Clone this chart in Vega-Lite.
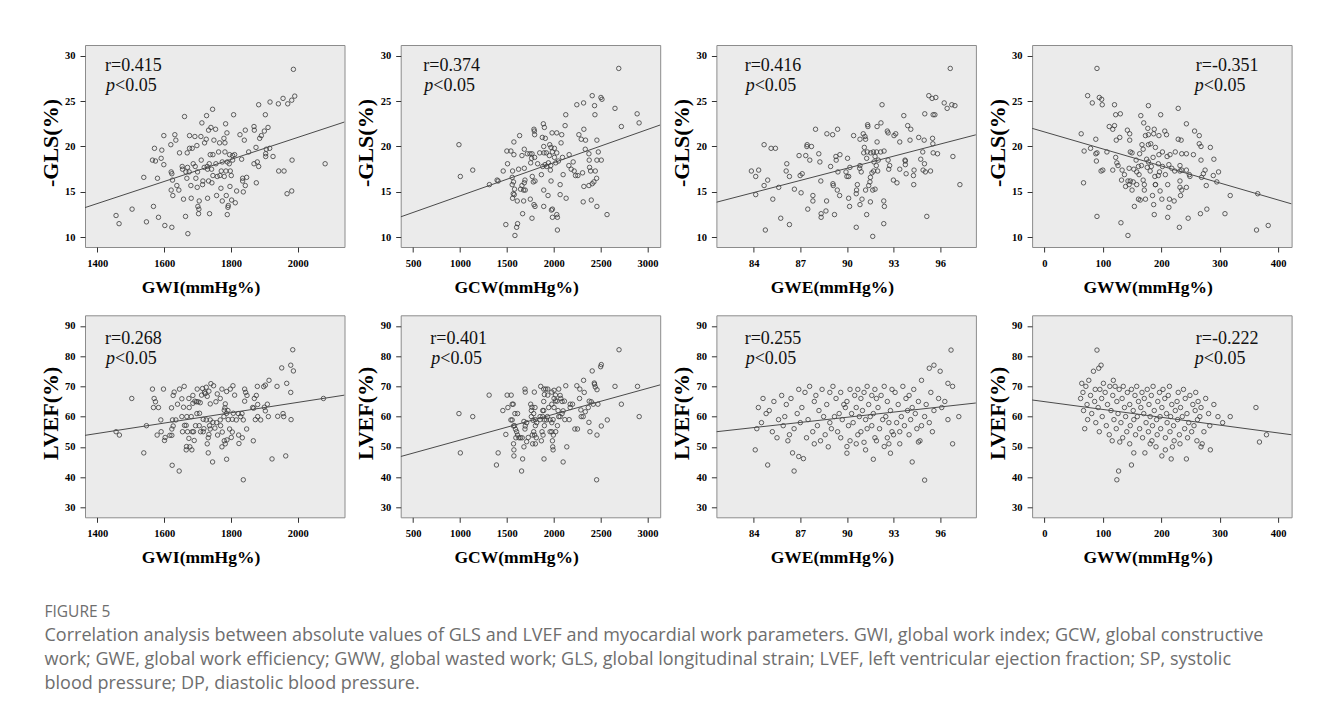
{
  "$schema": "https://vega.github.io/schema/vega-lite/v6.json",
  "background": "white",
  "padding": {"left": 38, "top": 44, "right": 0, "bottom": 12},
  "columns": 4,
  "bounds": "flush",
  "spacing": {"row": 68.3, "column": 55.7},
  "title": {
    "text": "FIGURE 5",
    "subtitle": [
      "Correlation analysis between absolute values of GLS and LVEF and myocardial work parameters. GWI, global work index; GCW, global constructive",
      "work; GWE, global work efficiency; GWW, global wasted work; GLS, global longitudinal strain; LVEF, left ventricular ejection fraction; SP, systolic",
      "blood pressure; DP, diastolic blood pressure."
    ],
    "orient": "bottom",
    "anchor": "start",
    "frame": "bounds",
    "offset": 38.5,
    "dx": 6,
    "font": "Open Sans",
    "fontSize": 15.5,
    "fontWeight": "normal",
    "color": "#6e6e6e",
    "subtitleFont": "Open Sans",
    "subtitleFontSize": 18,
    "subtitleColor": "#6e6e6e",
    "subtitleLineHeight": 24,
    "subtitlePadding": 6.5
  },
  "datasets": {
    "pts": [
      {"p":1,"x":1987,"y":28.5},{"p":1,"x":1991,"y":25.55},{"p":1,"x":1982,"y":25.1},{"p":1,"x":1956,"y":25.3},{"p":1,"x":1970,"y":24.7},{"p":1,"x":1942,"y":24.7},{"p":1,"x":1917,"y":24.9},{"p":1,"x":1883,"y":24.6},{"p":1,"x":1745,"y":24.1},{"p":1,"x":1661,"y":23.3},{"p":1,"x":1727,"y":23.4},{"p":1,"x":1808,"y":23.5},{"p":1,"x":1903,"y":23.5},{"p":1,"x":1713,"y":22.6},{"p":1,"x":1784,"y":22.5},{"p":1,"x":1740,"y":22.1},{"p":1,"x":1911,"y":22.1},{"p":1,"x":1869,"y":22.2},{"p":1,"x":1870,"y":21.8},{"p":1,"x":1843,"y":21.8},{"p":1,"x":1900,"y":21.7},{"p":1,"x":1891,"y":21.2},{"p":1,"x":1886,"y":20.9},{"p":1,"x":1827,"y":21.3},{"p":1,"x":1788,"y":21.5},{"p":1,"x":1733,"y":21.8},{"p":1,"x":1754,"y":21.9},{"p":1,"x":1599,"y":21.2},{"p":1,"x":1632,"y":21.3},{"p":1,"x":1676,"y":21.2},{"p":1,"x":1692,"y":21.1},{"p":1,"x":1710,"y":21.1},{"p":1,"x":1779,"y":20.9},{"p":1,"x":1726,"y":20.8},{"p":1,"x":1749,"y":20.7},{"p":1,"x":1635,"y":20.7},{"p":1,"x":1840,"y":20.7},{"p":1,"x":1620,"y":20.2},{"p":1,"x":1782,"y":20.4},{"p":1,"x":1766,"y":20.4},{"p":1,"x":1698,"y":20.1},{"p":1,"x":1721,"y":20.4},{"p":1,"x":1676,"y":19.8},{"p":1,"x":1684,"y":19.8},{"p":1,"x":1571,"y":19.8},{"p":1,"x":1593,"y":19.6},{"p":1,"x":1646,"y":19.3},{"p":1,"x":1669,"y":19.3},{"p":1,"x":1738,"y":19.1},{"p":1,"x":1746,"y":19.1},{"p":1,"x":1763,"y":19.4},{"p":1,"x":1782,"y":19.4},{"p":1,"x":1796,"y":19.1},{"p":1,"x":1805,"y":19.0},{"p":1,"x":1811,"y":19.1},{"p":1,"x":1853,"y":19.4},{"p":1,"x":1875,"y":19.9},{"p":1,"x":1906,"y":19.7},{"p":1,"x":1916,"y":19.8},{"p":1,"x":1904,"y":19.2},{"p":1,"x":1926,"y":18.9},{"p":1,"x":1904,"y":18.9},{"p":1,"x":1983,"y":18.5},{"p":1,"x":2082,"y":18.1},{"p":1,"x":1591,"y":18.7},{"p":1,"x":1565,"y":18.5},{"p":1,"x":1574,"y":18.4},{"p":1,"x":1599,"y":18.0},{"p":1,"x":1621,"y":17.2},{"p":1,"x":1623,"y":17.0},{"p":1,"x":1654,"y":17.8},{"p":1,"x":1655,"y":17.5},{"p":1,"x":1670,"y":17.7},{"p":1,"x":1687,"y":18.1},{"p":1,"x":1693,"y":17.8},{"p":1,"x":1711,"y":18.5},{"p":1,"x":1720,"y":17.7},{"p":1,"x":1729,"y":17.8},{"p":1,"x":1735,"y":18.1},{"p":1,"x":1730,"y":17.5},{"p":1,"x":1742,"y":17.5},{"p":1,"x":1755,"y":18.1},{"p":1,"x":1774,"y":18.3},{"p":1,"x":1789,"y":18.3},{"p":1,"x":1795,"y":18.1},{"p":1,"x":1805,"y":18.5},{"p":1,"x":1832,"y":18.6},{"p":1,"x":1869,"y":18.1},{"p":1,"x":1883,"y":17.8},{"p":1,"x":1879,"y":18.3},{"p":1,"x":1665,"y":17.2},{"p":1,"x":1675,"y":17.2},{"p":1,"x":1700,"y":17.2},{"p":1,"x":1746,"y":16.8},{"p":1,"x":1759,"y":16.7},{"p":1,"x":1771,"y":17.3},{"p":1,"x":1785,"y":17.3},{"p":1,"x":1798,"y":17.3},{"p":1,"x":1801,"y":16.8},{"p":1,"x":1780,"y":16.7},{"p":1,"x":1767,"y":16.8},{"p":1,"x":1539,"y":16.6},{"p":1,"x":1580,"y":16.5},{"p":1,"x":1625,"y":16.3},{"p":1,"x":1668,"y":16.5},{"p":1,"x":1695,"y":16.5},{"p":1,"x":1716,"y":16.2},{"p":1,"x":1733,"y":16.2},{"p":1,"x":1743,"y":16.0},{"p":1,"x":1835,"y":16.5},{"p":1,"x":1847,"y":16.6},{"p":1,"x":1835,"y":16.2},{"p":1,"x":1843,"y":15.7},{"p":1,"x":1876,"y":16.0},{"p":1,"x":1943,"y":17.3},{"p":1,"x":1959,"y":17.3},{"p":1,"x":1638,"y":15.7},{"p":1,"x":1680,"y":15.7},{"p":1,"x":1699,"y":15.5},{"p":1,"x":1715,"y":15.8},{"p":1,"x":1770,"y":15.4},{"p":1,"x":1797,"y":15.6},{"p":1,"x":1817,"y":15.1},{"p":1,"x":1644,"y":15.2},{"p":1,"x":1621,"y":15.2},{"p":1,"x":1626,"y":14.6},{"p":1,"x":1757,"y":14.6},{"p":1,"x":1786,"y":14.6},{"p":1,"x":1837,"y":15.0},{"p":1,"x":1982,"y":15.1},{"p":1,"x":1968,"y":14.8},{"p":1,"x":1658,"y":14.2},{"p":1,"x":1681,"y":14.3},{"p":1,"x":1705,"y":14.0},{"p":1,"x":1730,"y":14.3},{"p":1,"x":1774,"y":14.0},{"p":1,"x":1802,"y":14.1},{"p":1,"x":1813,"y":13.8},{"p":1,"x":1792,"y":13.5},{"p":1,"x":1791,"y":13.3},{"p":1,"x":1701,"y":13.4},{"p":1,"x":1704,"y":13.1},{"p":1,"x":1703,"y":12.6},{"p":1,"x":1736,"y":12.6},{"p":1,"x":1789,"y":12.5},{"p":1,"x":1568,"y":13.4},{"p":1,"x":1504,"y":13.1},{"p":1,"x":1456,"y":12.4},{"p":1,"x":1465,"y":11.5},{"p":1,"x":1583,"y":12.2},{"p":1,"x":1664,"y":12.3},{"p":1,"x":1547,"y":11.7},{"p":1,"x":1602,"y":11.3},{"p":1,"x":1623,"y":11.1},{"p":1,"x":1671,"y":10.4},

      {"p":2,"x":2693,"y":28.6},{"p":2,"x":2410,"y":25.6},{"p":2,"x":2503,"y":25.4},{"p":2,"x":2514,"y":25.2},{"p":2,"x":2435,"y":24.5},{"p":2,"x":2246,"y":24.6},{"p":2,"x":2318,"y":24.8},{"p":2,"x":2653,"y":24.2},{"p":2,"x":2439,"y":23.5},{"p":2,"x":2128,"y":23.5},{"p":2,"x":2889,"y":23.6},{"p":2,"x":2910,"y":22.6},{"p":2,"x":2721,"y":22.2},{"p":2,"x":2321,"y":21.9},{"p":2,"x":1889,"y":22.5},{"p":2,"x":1900,"y":22.1},{"p":2,"x":1789,"y":21.9},{"p":2,"x":1793,"y":21.7},{"p":2,"x":1796,"y":21.3},{"p":2,"x":1636,"y":21.2},{"p":2,"x":1982,"y":21.5},{"p":2,"x":2032,"y":21.5},{"p":2,"x":2085,"y":21.3},{"p":2,"x":2121,"y":22.3},{"p":2,"x":1878,"y":21.0},{"p":2,"x":1910,"y":20.9},{"p":2,"x":2078,"y":20.4},{"p":2,"x":2268,"y":21.3},{"p":2,"x":2293,"y":20.8},{"p":2,"x":2339,"y":20.7},{"p":2,"x":2460,"y":20.7},{"p":2,"x":1575,"y":20.5},{"p":2,"x":989,"y":20.2},{"p":2,"x":1957,"y":20.2},{"p":2,"x":1971,"y":19.9},{"p":2,"x":2007,"y":19.8},{"p":2,"x":1893,"y":20.0},{"p":2,"x":1500,"y":19.5},{"p":2,"x":1543,"y":19.5},{"p":2,"x":1575,"y":19.1},{"p":2,"x":1686,"y":19.7},{"p":2,"x":1661,"y":19.0},{"p":2,"x":1718,"y":19.2},{"p":2,"x":1746,"y":19.2},{"p":2,"x":1768,"y":19.2},{"p":2,"x":1796,"y":18.8},{"p":2,"x":1764,"y":18.7},{"p":2,"x":1850,"y":19.3},{"p":2,"x":1896,"y":19.3},{"p":2,"x":1921,"y":19.3},{"p":2,"x":1953,"y":19.0},{"p":2,"x":1985,"y":19.4},{"p":2,"x":2007,"y":18.8},{"p":2,"x":2032,"y":19.3},{"p":2,"x":2093,"y":18.8},{"p":2,"x":2164,"y":19.1},{"p":2,"x":2336,"y":19.7},{"p":2,"x":2375,"y":19.2},{"p":2,"x":2475,"y":19.4},{"p":2,"x":2460,"y":18.5},{"p":2,"x":2378,"y":18.5},{"p":2,"x":2507,"y":18.5},{"p":2,"x":2207,"y":18.3},{"p":2,"x":1507,"y":18.1},{"p":2,"x":1461,"y":17.3},{"p":2,"x":1561,"y":17.3},{"p":2,"x":1625,"y":17.5},{"p":2,"x":1686,"y":17.6},{"p":2,"x":1754,"y":18.2},{"p":2,"x":1828,"y":18.1},{"p":2,"x":1882,"y":17.8},{"p":2,"x":1907,"y":18.0},{"p":2,"x":1925,"y":17.8},{"p":2,"x":1943,"y":18.2},{"p":2,"x":1968,"y":17.9},{"p":2,"x":1964,"y":17.4},{"p":2,"x":2021,"y":18.2},{"p":2,"x":2050,"y":18.4},{"p":2,"x":2161,"y":17.9},{"p":2,"x":2186,"y":17.5},{"p":2,"x":2218,"y":17.3},{"p":2,"x":2232,"y":16.8},{"p":2,"x":2257,"y":16.8},{"p":2,"x":2307,"y":17.1},{"p":2,"x":2382,"y":17.7},{"p":2,"x":2393,"y":17.3},{"p":2,"x":2443,"y":17.3},{"p":2,"x":2457,"y":16.5},{"p":2,"x":1136,"y":17.4},{"p":2,"x":1004,"y":16.7},{"p":2,"x":1314,"y":15.8},{"p":2,"x":1396,"y":16.3},{"p":2,"x":1407,"y":16.2},{"p":2,"x":1557,"y":16.6},{"p":2,"x":1571,"y":16.1},{"p":2,"x":1693,"y":16.3},{"p":2,"x":1686,"y":16.0},{"p":2,"x":1771,"y":16.7},{"p":2,"x":1782,"y":16.1},{"p":2,"x":1800,"y":16.2},{"p":2,"x":1868,"y":16.9},{"p":2,"x":1971,"y":16.2},{"p":2,"x":2100,"y":16.9},{"p":2,"x":2068,"y":15.8},{"p":2,"x":2321,"y":15.6},{"p":2,"x":2375,"y":15.7},{"p":2,"x":2410,"y":15.9},{"p":2,"x":2428,"y":16.1},{"p":2,"x":1557,"y":15.8},{"p":2,"x":1661,"y":15.7},{"p":2,"x":1582,"y":15.3},{"p":2,"x":1646,"y":15.3},{"p":2,"x":1679,"y":15.2},{"p":2,"x":1696,"y":15.2},{"p":2,"x":1893,"y":15.2},{"p":2,"x":1568,"y":14.8},{"p":2,"x":1579,"y":14.7},{"p":2,"x":1561,"y":14.3},{"p":2,"x":1611,"y":14.0},{"p":2,"x":1679,"y":14.0},{"p":2,"x":1750,"y":14.2},{"p":2,"x":1939,"y":14.6},{"p":2,"x":2068,"y":14.7},{"p":2,"x":2132,"y":14.3},{"p":2,"x":1789,"y":13.6},{"p":2,"x":1893,"y":13.4},{"p":2,"x":1800,"y":13.4},{"p":2,"x":1975,"y":13.0},{"p":2,"x":1986,"y":13.1},{"p":2,"x":2314,"y":13.9},{"p":2,"x":2400,"y":14.1},{"p":2,"x":2460,"y":13.4},{"p":2,"x":2568,"y":12.5},{"p":2,"x":1668,"y":12.6},{"p":2,"x":1768,"y":12.1},{"p":2,"x":1986,"y":12.2},{"p":2,"x":2032,"y":12.5},{"p":2,"x":2039,"y":12.2},{"p":2,"x":1489,"y":11.4},{"p":2,"x":1614,"y":11.5},{"p":2,"x":1604,"y":11.1},{"p":2,"x":1586,"y":10.2},{"p":2,"x":2039,"y":10.8},

      {"p":3,"x":96.65,"y":28.6},{"p":3,"x":95.27,"y":25.6},{"p":3,"x":95.48,"y":25.3},{"p":3,"x":95.72,"y":25.4},{"p":3,"x":96.26,"y":24.8},{"p":3,"x":96.45,"y":24.2},{"p":3,"x":96.75,"y":24.6},{"p":3,"x":96.95,"y":24.5},{"p":3,"x":92.26,"y":24.6},{"p":3,"x":95.01,"y":23.6},{"p":3,"x":95.55,"y":23.5},{"p":3,"x":95.66,"y":23.5},{"p":3,"x":93.66,"y":23.4},{"p":3,"x":87.98,"y":21.9},{"p":3,"x":88.71,"y":21.4},{"p":3,"x":89.08,"y":21.3},{"p":3,"x":89.40,"y":21.9},{"p":3,"x":90.43,"y":21.2},{"p":3,"x":90.84,"y":20.8},{"p":3,"x":91.05,"y":21.4},{"p":3,"x":91.16,"y":21.1},{"p":3,"x":91.20,"y":20.8},{"p":3,"x":91.33,"y":22.4},{"p":3,"x":91.35,"y":22.2},{"p":3,"x":91.94,"y":22.2},{"p":3,"x":92.19,"y":22.6},{"p":3,"x":92.60,"y":21.7},{"p":3,"x":92.65,"y":21.5},{"p":3,"x":93.14,"y":21.4},{"p":3,"x":93.03,"y":21.2},{"p":3,"x":93.91,"y":22.3},{"p":3,"x":94.11,"y":21.9},{"p":3,"x":93.40,"y":20.5},{"p":3,"x":94.06,"y":20.7},{"p":3,"x":94.62,"y":21.0},{"p":3,"x":94.97,"y":20.7},{"p":3,"x":95.51,"y":20.9},{"p":3,"x":95.53,"y":20.3},{"p":3,"x":91.94,"y":20.5},{"p":3,"x":84.67,"y":20.2},{"p":3,"x":85.12,"y":19.8},{"p":3,"x":85.40,"y":19.8},{"p":3,"x":87.44,"y":20.2},{"p":3,"x":87.42,"y":20.0},{"p":3,"x":87.72,"y":20.0},{"p":3,"x":86.92,"y":19.0},{"p":3,"x":87.35,"y":19.0},{"p":3,"x":87.61,"y":18.5},{"p":3,"x":88.26,"y":18.3},{"p":3,"x":88.19,"y":19.2},{"p":3,"x":89.29,"y":18.9},{"p":3,"x":89.55,"y":19.1},{"p":3,"x":89.31,"y":18.5},{"p":3,"x":90.04,"y":18.7},{"p":3,"x":91.12,"y":19.9},{"p":3,"x":91.08,"y":19.3},{"p":3,"x":91.31,"y":19.4},{"p":3,"x":91.53,"y":19.3},{"p":3,"x":91.70,"y":19.4},{"p":3,"x":91.91,"y":19.4},{"p":3,"x":92.17,"y":19.4},{"p":3,"x":92.39,"y":19.5},{"p":3,"x":91.81,"y":18.9},{"p":3,"x":91.27,"y":18.7},{"p":3,"x":91.74,"y":18.3},{"p":3,"x":92.02,"y":18.5},{"p":3,"x":92.65,"y":18.5},{"p":3,"x":94.88,"y":19.4},{"p":3,"x":95.55,"y":19.3},{"p":3,"x":95.83,"y":19.2},{"p":3,"x":96.82,"y":18.9},{"p":3,"x":93.74,"y":18.5},{"p":3,"x":94.75,"y":18.6},{"p":3,"x":94.99,"y":18.1},{"p":3,"x":93.76,"y":18.0},{"p":3,"x":83.85,"y":17.3},{"p":3,"x":84.32,"y":17.4},{"p":3,"x":84.13,"y":16.7},{"p":3,"x":84.90,"y":16.3},{"p":3,"x":84.67,"y":15.7},{"p":3,"x":84.13,"y":14.7},{"p":3,"x":85.61,"y":15.5},{"p":3,"x":85.23,"y":14.2},{"p":3,"x":86.09,"y":17.3},{"p":3,"x":86.13,"y":18.1},{"p":3,"x":86.30,"y":16.7},{"p":3,"x":86.62,"y":15.3},{"p":3,"x":86.99,"y":16.8},{"p":3,"x":87.12,"y":17.0},{"p":3,"x":87.05,"y":14.9},{"p":3,"x":87.81,"y":14.6},{"p":3,"x":87.81,"y":14.0},{"p":3,"x":87.48,"y":13.1},{"p":3,"x":88.32,"y":16.2},{"p":3,"x":88.65,"y":12.9},{"p":3,"x":88.69,"y":14.0},{"p":3,"x":88.34,"y":12.6},{"p":3,"x":88.34,"y":12.2},{"p":3,"x":88.95,"y":17.8},{"p":3,"x":89.10,"y":15.9},{"p":3,"x":89.12,"y":15.7},{"p":3,"x":89.38,"y":15.2},{"p":3,"x":89.53,"y":14.6},{"p":3,"x":89.20,"y":12.5},{"p":3,"x":89.42,"y":17.2},{"p":3,"x":89.94,"y":17.2},{"p":3,"x":90.00,"y":16.7},{"p":3,"x":90.11,"y":16.7},{"p":3,"x":90.11,"y":14.3},{"p":3,"x":90.17,"y":13.4},{"p":3,"x":90.19,"y":17.7},{"p":3,"x":90.67,"y":15.8},{"p":3,"x":90.62,"y":15.2},{"p":3,"x":90.60,"y":14.8},{"p":3,"x":90.60,"y":11.1},{"p":3,"x":90.84,"y":17.9},{"p":3,"x":90.82,"y":17.6},{"p":3,"x":90.92,"y":17.2},{"p":3,"x":90.97,"y":14.2},{"p":3,"x":90.84,"y":13.6},{"p":3,"x":91.20,"y":15.2},{"p":3,"x":91.27,"y":12.5},{"p":3,"x":91.40,"y":15.7},{"p":3,"x":91.48,"y":16.1},{"p":3,"x":91.51,"y":16.6},{"p":3,"x":91.61,"y":17.1},{"p":3,"x":91.66,"y":15.2},{"p":3,"x":91.51,"y":13.9},{"p":3,"x":91.66,"y":10.1},{"p":3,"x":91.81,"y":15.3},{"p":3,"x":91.89,"y":17.9},{"p":3,"x":91.98,"y":17.3},{"p":3,"x":91.72,"y":17.3},{"p":3,"x":92.37,"y":14.0},{"p":3,"x":92.41,"y":13.4},{"p":3,"x":92.37,"y":11.5},{"p":3,"x":92.69,"y":17.5},{"p":3,"x":92.75,"y":17.9},{"p":3,"x":92.99,"y":16.3},{"p":3,"x":93.22,"y":16.0},{"p":3,"x":93.40,"y":17.5},{"p":3,"x":93.76,"y":18.4},{"p":3,"x":93.81,"y":17.0},{"p":3,"x":94.30,"y":15.8},{"p":3,"x":94.28,"y":16.8},{"p":3,"x":94.32,"y":17.4},{"p":3,"x":94.90,"y":17.4},{"p":3,"x":95.05,"y":17.2},{"p":3,"x":95.38,"y":17.3},{"p":3,"x":95.14,"y":12.3},{"p":3,"x":97.27,"y":15.8},{"p":3,"x":84.75,"y":10.8},{"p":3,"x":85.74,"y":12.1},{"p":3,"x":86.30,"y":11.4},

      {"p":4,"x":90,"y":28.6},{"p":4,"x":74,"y":25.6},{"p":4,"x":94,"y":25.4},{"p":4,"x":98,"y":25.2},{"p":4,"x":82,"y":24.8},{"p":4,"x":99,"y":24.6},{"p":4,"x":120,"y":24.6},{"p":4,"x":178,"y":24.5},{"p":4,"x":229,"y":24.2},{"p":4,"x":122,"y":23.5},{"p":4,"x":130,"y":23.6},{"p":4,"x":165,"y":23.4},{"p":4,"x":199,"y":23.5},{"p":4,"x":170,"y":22.6},{"p":4,"x":111,"y":22.2},{"p":4,"x":120,"y":22.3},{"p":4,"x":117,"y":21.9},{"p":4,"x":142,"y":21.8},{"p":4,"x":146,"y":21.4},{"p":4,"x":177,"y":22.0},{"p":4,"x":188,"y":21.9},{"p":4,"x":243,"y":22.5},{"p":4,"x":63,"y":21.4},{"p":4,"x":129,"y":21.0},{"p":4,"x":123,"y":20.7},{"p":4,"x":146,"y":20.7},{"p":4,"x":173,"y":21.2},{"p":4,"x":178,"y":21.3},{"p":4,"x":187,"y":21.4},{"p":4,"x":209,"y":21.3},{"p":4,"x":206,"y":21.7},{"p":4,"x":196,"y":21.2},{"p":4,"x":257,"y":21.7},{"p":4,"x":229,"y":20.8},{"p":4,"x":234,"y":20.7},{"p":4,"x":265,"y":21.2},{"p":4,"x":88,"y":20.8},{"p":4,"x":68,"y":19.5},{"p":4,"x":79,"y":19.8},{"p":4,"x":88,"y":19.2},{"p":4,"x":90,"y":19.3},{"p":4,"x":107,"y":19.4},{"p":4,"x":89,"y":18.4},{"p":4,"x":122,"y":18.8},{"p":4,"x":147,"y":19.4},{"p":4,"x":150,"y":19.3},{"p":4,"x":163,"y":19.2},{"p":4,"x":167,"y":20.2},{"p":4,"x":169,"y":19.7},{"p":4,"x":178,"y":20.2},{"p":4,"x":182,"y":20.3},{"p":4,"x":190,"y":19.9},{"p":4,"x":196,"y":19.1},{"p":4,"x":202,"y":19.4},{"p":4,"x":215,"y":19.1},{"p":4,"x":210,"y":18.9},{"p":4,"x":224,"y":19.4},{"p":4,"x":235,"y":19.2},{"p":4,"x":243,"y":19.2},{"p":4,"x":255,"y":19.1},{"p":4,"x":265,"y":20.3},{"p":4,"x":268,"y":20.0},{"p":4,"x":284,"y":19.9},{"p":4,"x":268,"y":18.5},{"p":4,"x":290,"y":18.6},{"p":4,"x":67,"y":16.0},{"p":4,"x":97,"y":17.3},{"p":4,"x":100,"y":17.4},{"p":4,"x":117,"y":17.4},{"p":4,"x":124,"y":18.2},{"p":4,"x":126,"y":17.9},{"p":4,"x":133,"y":17.4},{"p":4,"x":137,"y":16.9},{"p":4,"x":145,"y":17.6},{"p":4,"x":147,"y":16.2},{"p":4,"x":153,"y":17.5},{"p":4,"x":157,"y":18.5},{"p":4,"x":158,"y":17.2},{"p":4,"x":161,"y":17.8},{"p":4,"x":162,"y":16.9},{"p":4,"x":166,"y":17.9},{"p":4,"x":169,"y":16.3},{"p":4,"x":175,"y":18.6},{"p":4,"x":176,"y":17.7},{"p":4,"x":178,"y":18.3},{"p":4,"x":181,"y":17.3},{"p":4,"x":183,"y":17.8},{"p":4,"x":186,"y":18.8},{"p":4,"x":189,"y":16.7},{"p":4,"x":190,"y":15.8},{"p":4,"x":195,"y":16.8},{"p":4,"x":195,"y":18.1},{"p":4,"x":197,"y":17.2},{"p":4,"x":202,"y":17.8},{"p":4,"x":207,"y":16.9},{"p":4,"x":213,"y":18.0},{"p":4,"x":218,"y":17.6},{"p":4,"x":223,"y":17.3},{"p":4,"x":232,"y":17.9},{"p":4,"x":232,"y":17.3},{"p":4,"x":232,"y":16.2},{"p":4,"x":235,"y":17.4},{"p":4,"x":243,"y":17.4},{"p":4,"x":248,"y":16.9},{"p":4,"x":249,"y":16.7},{"p":4,"x":269,"y":16.6},{"p":4,"x":272,"y":17.0},{"p":4,"x":275,"y":17.4},{"p":4,"x":289,"y":16.8},{"p":4,"x":298,"y":17.2},{"p":4,"x":295,"y":16.1},{"p":4,"x":277,"y":15.7},{"p":4,"x":318,"y":14.6},{"p":4,"x":365,"y":14.8},{"p":4,"x":132,"y":16.3},{"p":4,"x":143,"y":16.2},{"p":4,"x":145,"y":15.8},{"p":4,"x":139,"y":15.6},{"p":4,"x":152,"y":16.1},{"p":4,"x":158,"y":15.8},{"p":4,"x":150,"y":15.2},{"p":4,"x":171,"y":15.2},{"p":4,"x":171,"y":15.8},{"p":4,"x":190,"y":15.8},{"p":4,"x":198,"y":15.1},{"p":4,"x":211,"y":15.8},{"p":4,"x":232,"y":15.5},{"p":4,"x":235,"y":15.2},{"p":4,"x":243,"y":15.5},{"p":4,"x":161,"y":14.2},{"p":4,"x":164,"y":14.1},{"p":4,"x":173,"y":14.2},{"p":4,"x":185,"y":14.6},{"p":4,"x":187,"y":13.6},{"p":4,"x":201,"y":14.2},{"p":4,"x":214,"y":14.2},{"p":4,"x":213,"y":13.3},{"p":4,"x":222,"y":14.0},{"p":4,"x":233,"y":14.6},{"p":4,"x":154,"y":13.4},{"p":4,"x":188,"y":12.5},{"p":4,"x":211,"y":12.2},{"p":4,"x":246,"y":12.1},{"p":4,"x":267,"y":12.6},{"p":4,"x":278,"y":13.1},{"p":4,"x":309,"y":12.6},{"p":4,"x":90,"y":12.3},{"p":4,"x":131,"y":11.6},{"p":4,"x":231,"y":11.1},{"p":4,"x":143,"y":10.2},{"p":4,"x":363,"y":10.8},{"p":4,"x":383,"y":11.3},

      {"p":5,"x":1985,"y":82.1},{"p":5,"x":1952,"y":76.1},{"p":5,"x":1979,"y":77.0},{"p":5,"x":1987,"y":75.1},{"p":5,"x":1914,"y":72.0},{"p":5,"x":1967,"y":71.0},{"p":5,"x":1979,"y":68.0},{"p":5,"x":1503,"y":66.0},{"p":5,"x":2077,"y":66.0},{"p":5,"x":1565,"y":69.1},{"p":5,"x":1598,"y":69.1},{"p":5,"x":1630,"y":68.1},{"p":5,"x":1646,"y":69.1},{"p":5,"x":1660,"y":70.0},{"p":5,"x":1699,"y":69.1},{"p":5,"x":1715,"y":69.3},{"p":5,"x":1726,"y":69.7},{"p":5,"x":1740,"y":70.9},{"p":5,"x":1748,"y":70.2},{"p":5,"x":1734,"y":68.4},{"p":5,"x":1721,"y":68.1},{"p":5,"x":1723,"y":67.6},{"p":5,"x":1729,"y":66.7},{"p":5,"x":1712,"y":67.1},{"p":5,"x":1686,"y":67.0},{"p":5,"x":1674,"y":66.0},{"p":5,"x":1653,"y":65.9},{"p":5,"x":1627,"y":67.0},{"p":5,"x":1570,"y":66.0},{"p":5,"x":1574,"y":64.9},{"p":5,"x":1568,"y":63.0},{"p":5,"x":1583,"y":63.0},{"p":5,"x":1622,"y":62.9},{"p":5,"x":1640,"y":64.1},{"p":5,"x":1658,"y":63.1},{"p":5,"x":1675,"y":63.0},{"p":5,"x":1686,"y":64.4},{"p":5,"x":1692,"y":65.1},{"p":5,"x":1697,"y":64.9},{"p":5,"x":1702,"y":64.9},{"p":5,"x":1708,"y":64.6},{"p":5,"x":1738,"y":64.2},{"p":5,"x":1755,"y":64.9},{"p":5,"x":1783,"y":64.2},{"p":5,"x":1782,"y":62.9},{"p":5,"x":1780,"y":62.1},{"p":5,"x":1791,"y":62.0},{"p":5,"x":1787,"y":61.1},{"p":5,"x":1798,"y":69.1},{"p":5,"x":1806,"y":70.2},{"p":5,"x":1787,"y":68.3},{"p":5,"x":1811,"y":67.1},{"p":5,"x":1768,"y":66.0},{"p":5,"x":1759,"y":67.5},{"p":5,"x":1773,"y":69.1},{"p":5,"x":1841,"y":69.1},{"p":5,"x":1844,"y":68.0},{"p":5,"x":1848,"y":67.0},{"p":5,"x":1841,"y":65.1},{"p":5,"x":1870,"y":66.0},{"p":5,"x":1876,"y":67.0},{"p":5,"x":1879,"y":70.0},{"p":5,"x":1898,"y":69.9},{"p":5,"x":1903,"y":70.4},{"p":5,"x":1880,"y":64.0},{"p":5,"x":1868,"y":62.8},{"p":5,"x":1865,"y":63.0},{"p":5,"x":1900,"y":63.1},{"p":5,"x":1903,"y":61.9},{"p":5,"x":1909,"y":64.1},{"p":5,"x":1938,"y":70.0},{"p":5,"x":1958,"y":60.0},{"p":5,"x":1940,"y":60.1},{"p":5,"x":1980,"y":59.0},{"p":5,"x":1912,"y":60.0},{"p":5,"x":1889,"y":58.9},{"p":5,"x":1873,"y":59.0},{"p":5,"x":1880,"y":60.0},{"p":5,"x":1807,"y":61.1},{"p":5,"x":1822,"y":61.0},{"p":5,"x":1833,"y":61.0},{"p":5,"x":1837,"y":58.9},{"p":5,"x":1829,"y":60.0},{"p":5,"x":1816,"y":58.9},{"p":5,"x":1804,"y":59.1},{"p":5,"x":1792,"y":59.0},{"p":5,"x":1779,"y":60.0},{"p":5,"x":1768,"y":58.9},{"p":5,"x":1757,"y":58.0},{"p":5,"x":1746,"y":58.1},{"p":5,"x":1738,"y":58.9},{"p":5,"x":1726,"y":58.9},{"p":5,"x":1717,"y":59.1},{"p":5,"x":1706,"y":61.1},{"p":5,"x":1698,"y":61.0},{"p":5,"x":1681,"y":60.0},{"p":5,"x":1668,"y":60.0},{"p":5,"x":1653,"y":60.0},{"p":5,"x":1635,"y":58.9},{"p":5,"x":1625,"y":58.9},{"p":5,"x":1590,"y":58.9},{"p":5,"x":1547,"y":57.0},{"p":5,"x":1456,"y":55.0},{"p":5,"x":1466,"y":53.9},{"p":5,"x":1539,"y":48.0},{"p":5,"x":1579,"y":53.9},{"p":5,"x":1591,"y":55.0},{"p":5,"x":1603,"y":53.1},{"p":5,"x":1601,"y":52.1},{"p":5,"x":1617,"y":53.8},{"p":5,"x":1623,"y":53.8},{"p":5,"x":1623,"y":55.9},{"p":5,"x":1627,"y":56.9},{"p":5,"x":1661,"y":57.1},{"p":5,"x":1666,"y":57.1},{"p":5,"x":1655,"y":55.0},{"p":5,"x":1670,"y":55.0},{"p":5,"x":1684,"y":55.0},{"p":5,"x":1688,"y":55.0},{"p":5,"x":1674,"y":52.8},{"p":5,"x":1690,"y":52.1},{"p":5,"x":1667,"y":50.1},{"p":5,"x":1666,"y":49.0},{"p":5,"x":1677,"y":50.0},{"p":5,"x":1683,"y":49.0},{"p":5,"x":1694,"y":57.0},{"p":5,"x":1709,"y":55.0},{"p":5,"x":1717,"y":55.0},{"p":5,"x":1719,"y":56.0},{"p":5,"x":1705,"y":57.0},{"p":5,"x":1736,"y":57.0},{"p":5,"x":1738,"y":55.9},{"p":5,"x":1734,"y":54.1},{"p":5,"x":1732,"y":53.0},{"p":5,"x":1729,"y":51.0},{"p":5,"x":1732,"y":48.0},{"p":5,"x":1745,"y":45.0},{"p":5,"x":1752,"y":56.2},{"p":5,"x":1760,"y":53.9},{"p":5,"x":1769,"y":57.0},{"p":5,"x":1774,"y":54.9},{"p":5,"x":1773,"y":50.0},{"p":5,"x":1780,"y":52.0},{"p":5,"x":1783,"y":51.0},{"p":5,"x":1788,"y":52.3},{"p":5,"x":1787,"y":45.9},{"p":5,"x":1796,"y":55.9},{"p":5,"x":1801,"y":53.1},{"p":5,"x":1804,"y":54.9},{"p":5,"x":1824,"y":51.1},{"p":5,"x":1823,"y":53.9},{"p":5,"x":1834,"y":53.0},{"p":5,"x":1847,"y":55.9},{"p":5,"x":1867,"y":52.0},{"p":5,"x":1837,"y":39.1},{"p":5,"x":1624,"y":43.9},{"p":5,"x":1645,"y":42.0},{"p":5,"x":1923,"y":46.0},{"p":5,"x":1964,"y":47.0},{"p":5,"x":1956,"y":61.0},

      {"p":6,"x":2696,"y":82.1},{"p":6,"x":2507,"y":77.2},{"p":6,"x":2500,"y":76.5},{"p":6,"x":2410,"y":75.1},{"p":6,"x":2318,"y":72.0},{"p":6,"x":2432,"y":71.1},{"p":6,"x":2435,"y":70.7},{"p":6,"x":2443,"y":69.8},{"p":6,"x":2461,"y":68.9},{"p":6,"x":2653,"y":70.0},{"p":6,"x":2893,"y":70.0},{"p":6,"x":1311,"y":67.1},{"p":6,"x":1503,"y":67.1},{"p":6,"x":1546,"y":67.1},{"p":6,"x":1693,"y":69.1},{"p":6,"x":1696,"y":68.1},{"p":6,"x":1793,"y":68.1},{"p":6,"x":1861,"y":70.0},{"p":6,"x":1893,"y":69.1},{"p":6,"x":1914,"y":69.1},{"p":6,"x":1936,"y":69.1},{"p":6,"x":1900,"y":67.3},{"p":6,"x":1936,"y":67.1},{"p":6,"x":1979,"y":68.1},{"p":6,"x":2003,"y":68.7},{"p":6,"x":2053,"y":69.1},{"p":6,"x":2018,"y":67.1},{"p":6,"x":2128,"y":70.2},{"p":6,"x":2068,"y":67.0},{"p":6,"x":2089,"y":65.0},{"p":6,"x":2114,"y":65.1},{"p":6,"x":2200,"y":64.1},{"p":6,"x":2175,"y":63.0},{"p":6,"x":2246,"y":70.2},{"p":6,"x":2278,"y":69.1},{"p":6,"x":2325,"y":68.0},{"p":6,"x":2275,"y":66.0},{"p":6,"x":2378,"y":65.1},{"p":6,"x":2400,"y":64.9},{"p":6,"x":2421,"y":64.1},{"p":6,"x":2368,"y":63.0},{"p":6,"x":2471,"y":64.1},{"p":6,"x":2289,"y":62.2},{"p":6,"x":2336,"y":61.6},{"p":6,"x":2293,"y":60.0},{"p":6,"x":2375,"y":58.1},{"p":6,"x":2386,"y":55.0},{"p":6,"x":2507,"y":56.9},{"p":6,"x":2461,"y":53.9},{"p":6,"x":2571,"y":58.9},{"p":6,"x":2721,"y":64.1},{"p":6,"x":2911,"y":60.0},{"p":6,"x":989,"y":61.0},{"p":6,"x":1136,"y":60.0},{"p":6,"x":1004,"y":48.0},{"p":6,"x":1457,"y":62.0},{"p":6,"x":1511,"y":63.0},{"p":6,"x":1557,"y":64.1},{"p":6,"x":1568,"y":64.1},{"p":6,"x":1586,"y":61.0},{"p":6,"x":1614,"y":61.0},{"p":6,"x":1557,"y":58.9},{"p":6,"x":1543,"y":58.9},{"p":6,"x":1571,"y":56.9},{"p":6,"x":1582,"y":57.0},{"p":6,"x":1593,"y":55.8},{"p":6,"x":1604,"y":55.0},{"p":6,"x":1614,"y":53.9},{"p":6,"x":1629,"y":53.0},{"p":6,"x":1646,"y":53.0},{"p":6,"x":1596,"y":53.0},{"p":6,"x":1664,"y":53.0},{"p":6,"x":1571,"y":51.0},{"p":6,"x":1575,"y":49.0},{"p":6,"x":1575,"y":47.0},{"p":6,"x":1489,"y":54.1},{"p":6,"x":1407,"y":48.0},{"p":6,"x":1389,"y":44.0},{"p":6,"x":1668,"y":46.0},{"p":6,"x":1657,"y":42.0},{"p":6,"x":1682,"y":50.0},{"p":6,"x":1711,"y":51.7},{"p":6,"x":1728,"y":53.1},{"p":6,"x":1693,"y":55.9},{"p":6,"x":1696,"y":56.9},{"p":6,"x":1711,"y":58.0},{"p":6,"x":1682,"y":58.4},{"p":6,"x":1761,"y":60.0},{"p":6,"x":1779,"y":58.8},{"p":6,"x":1761,"y":62.0},{"p":6,"x":1768,"y":63.1},{"p":6,"x":1754,"y":64.1},{"p":6,"x":1800,"y":63.0},{"p":6,"x":1786,"y":61.0},{"p":6,"x":1804,"y":59.0},{"p":6,"x":1818,"y":58.0},{"p":6,"x":1804,"y":57.0},{"p":6,"x":1786,"y":55.0},{"p":6,"x":1771,"y":53.9},{"p":6,"x":1796,"y":53.9},{"p":6,"x":1804,"y":51.0},{"p":6,"x":1775,"y":51.0},{"p":6,"x":1814,"y":53.0},{"p":6,"x":1854,"y":60.0},{"p":6,"x":1854,"y":59.0},{"p":6,"x":1882,"y":60.0},{"p":6,"x":1893,"y":62.0},{"p":6,"x":1893,"y":65.0},{"p":6,"x":1882,"y":62.0},{"p":6,"x":1900,"y":58.9},{"p":6,"x":1900,"y":57.0},{"p":6,"x":1875,"y":55.0},{"p":6,"x":1868,"y":52.0},{"p":6,"x":1886,"y":53.9},{"p":6,"x":1896,"y":46.0},{"p":6,"x":1921,"y":58.9},{"p":6,"x":1932,"y":60.0},{"p":6,"x":1946,"y":63.0},{"p":6,"x":1961,"y":58.9},{"p":6,"x":1961,"y":55.0},{"p":6,"x":1979,"y":55.0},{"p":6,"x":1979,"y":58.0},{"p":6,"x":1993,"y":59.0},{"p":6,"x":1986,"y":52.0},{"p":6,"x":1993,"y":49.0},{"p":6,"x":1989,"y":50.0},{"p":6,"x":1996,"y":53.9},{"p":6,"x":2021,"y":55.0},{"p":6,"x":2039,"y":57.0},{"p":6,"x":2053,"y":60.0},{"p":6,"x":2068,"y":60.0},{"p":6,"x":2089,"y":61.0},{"p":6,"x":2100,"y":61.9},{"p":6,"x":2118,"y":59.0},{"p":6,"x":2139,"y":50.0},{"p":6,"x":2100,"y":45.0},{"p":6,"x":2164,"y":59.0},{"p":6,"x":2175,"y":64.1},{"p":6,"x":2225,"y":55.9},{"p":6,"x":2253,"y":55.9},{"p":6,"x":2314,"y":60.0},{"p":6,"x":2457,"y":39.1},{"p":6,"x":1979,"y":64.1},{"p":6,"x":2003,"y":66.0},{"p":6,"x":2018,"y":65.2},{"p":6,"x":2035,"y":65.1},{"p":6,"x":2075,"y":66.0},{"p":6,"x":2003,"y":63.0},{"p":6,"x":2046,"y":62.0},

      {"p":7,"x":96.7,"y":82},{"p":7,"x":95.6,"y":77},{"p":7,"x":95.3,"y":76},{"p":7,"x":96.0,"y":75},{"p":7,"x":94.8,"y":72},{"p":7,"x":96.5,"y":71},
      {"p":7,"x":96.8,"y":70},{"p":7,"x":92.4,"y":70},{"p":7,"x":89.1,"y":70},{"p":7,"x":87.6,"y":70},{"p":7,"x":91.3,"y":70},{"p":7,"x":93.6,"y":70},
      {"p":7,"x":86.9,"y":69},{"p":7,"x":88.4,"y":69},{"p":7,"x":90.2,"y":69},{"p":7,"x":91.8,"y":69},{"p":7,"x":92.9,"y":69},{"p":7,"x":94.3,"y":69},{"p":7,"x":90.7,"y":69},
      {"p":7,"x":87.3,"y":68},{"p":7,"x":89.6,"y":68},{"p":7,"x":91.1,"y":68},{"p":7,"x":93.1,"y":68},{"p":7,"x":95.4,"y":68},{"p":7,"x":88.9,"y":68},
      {"p":7,"x":85.8,"y":67},{"p":7,"x":88.0,"y":67},{"p":7,"x":90.5,"y":67},{"p":7,"x":92.2,"y":67},{"p":7,"x":94.0,"y":67},{"p":7,"x":91.6,"y":67},
      {"p":7,"x":84.6,"y":66},{"p":7,"x":86.4,"y":66},{"p":7,"x":89.3,"y":66},{"p":7,"x":91.9,"y":66},{"p":7,"x":93.8,"y":66},{"p":7,"x":95.9,"y":66},{"p":7,"x":90.9,"y":66},
      {"p":7,"x":85.3,"y":65},{"p":7,"x":87.9,"y":65},{"p":7,"x":90.0,"y":65},{"p":7,"x":92.6,"y":65},{"p":7,"x":94.6,"y":65},{"p":7,"x":96.3,"y":65},
      {"p":7,"x":86.1,"y":64},{"p":7,"x":88.7,"y":64},{"p":7,"x":91.4,"y":64},{"p":7,"x":93.3,"y":64},{"p":7,"x":95.1,"y":64},{"p":7,"x":89.8,"y":64},
      {"p":7,"x":84.3,"y":63},{"p":7,"x":87.1,"y":63},{"p":7,"x":89.9,"y":63},{"p":7,"x":92.0,"y":63},{"p":7,"x":94.2,"y":63},{"p":7,"x":96.1,"y":63},{"p":7,"x":90.6,"y":63},
      {"p":7,"x":85.0,"y":62},{"p":7,"x":88.2,"y":62},{"p":7,"x":91.0,"y":62},{"p":7,"x":92.8,"y":62},{"p":7,"x":95.6,"y":62},{"p":7,"x":93.9,"y":62},
      {"p":7,"x":84.8,"y":61},{"p":7,"x":86.8,"y":61},{"p":7,"x":89.5,"y":61},{"p":7,"x":91.7,"y":61},{"p":7,"x":94.4,"y":61},{"p":7,"x":90.3,"y":61},
      {"p":7,"x":86.0,"y":60},{"p":7,"x":88.5,"y":60},{"p":7,"x":90.8,"y":60},{"p":7,"x":91.5,"y":60},{"p":7,"x":92.5,"y":60},{"p":7,"x":93.5,"y":60},{"p":7,"x":95.0,"y":60},{"p":7,"x":97.2,"y":60},{"p":7,"x":89.2,"y":60},
      {"p":7,"x":85.6,"y":59},{"p":7,"x":87.5,"y":59},{"p":7,"x":89.7,"y":59},{"p":7,"x":91.2,"y":59},{"p":7,"x":92.3,"y":59},{"p":7,"x":94.1,"y":59},{"p":7,"x":96.5,"y":59},
      {"p":7,"x":84.5,"y":58},{"p":7,"x":87.0,"y":58},{"p":7,"x":88.9,"y":58},{"p":7,"x":90.4,"y":58},{"p":7,"x":92.7,"y":58},{"p":7,"x":93.2,"y":58},{"p":7,"x":95.3,"y":58},
      {"p":7,"x":85.9,"y":57},{"p":7,"x":88.1,"y":57},{"p":7,"x":90.1,"y":57},{"p":7,"x":91.6,"y":57},{"p":7,"x":93.7,"y":57},{"p":7,"x":94.8,"y":57},
      {"p":7,"x":84.2,"y":56},{"p":7,"x":86.6,"y":56},{"p":7,"x":89.0,"y":56},{"p":7,"x":91.3,"y":56},{"p":7,"x":92.1,"y":56},{"p":7,"x":94.5,"y":56},
      {"p":7,"x":85.2,"y":55},{"p":7,"x":87.8,"y":55},{"p":7,"x":89.4,"y":55},{"p":7,"x":90.9,"y":55},{"p":7,"x":92.9,"y":55},{"p":7,"x":93.4,"y":55},{"p":7,"x":95.5,"y":55},
      {"p":7,"x":86.3,"y":54},{"p":7,"x":88.6,"y":54},{"p":7,"x":90.7,"y":54},{"p":7,"x":93.0,"y":54},{"p":7,"x":94.0,"y":54},
      {"p":7,"x":85.5,"y":53},{"p":7,"x":87.4,"y":53},{"p":7,"x":89.6,"y":53},{"p":7,"x":91.8,"y":53},{"p":7,"x":92.6,"y":53},
      {"p":7,"x":86.2,"y":52},{"p":7,"x":88.3,"y":52},{"p":7,"x":90.2,"y":52},{"p":7,"x":91.9,"y":52},{"p":7,"x":94.7,"y":52},
      {"p":7,"x":91.1,"y":51.5},{"p":7,"x":94.6,"y":51.6},{"p":7,"x":90.6,"y":51},{"p":7,"x":92.7,"y":51},{"p":7,"x":93.4,"y":51},{"p":7,"x":96.8,"y":51},{"p":7,"x":87.9,"y":51},
      {"p":7,"x":90.0,"y":50.1},{"p":7,"x":92.4,"y":50.1},{"p":7,"x":88.8,"y":50},{"p":7,"x":84.1,"y":49},{"p":7,"x":91.2,"y":49},
      {"p":7,"x":90.0,"y":47.9},{"p":7,"x":92.8,"y":47.9},{"p":7,"x":86.5,"y":48},{"p":7,"x":86.9,"y":46.8},{"p":7,"x":87.2,"y":46.1},{"p":7,"x":91.7,"y":45.9},{"p":7,"x":94.2,"y":45},{"p":7,"x":84.9,"y":44},{"p":7,"x":86.6,"y":42},{"p":7,"x":95.0,"y":39},

      {"p":8,"x":90,"y":82},{"p":8,"x":97,"y":77},{"p":8,"x":93,"y":76},{"p":8,"x":84,"y":75},{"p":8,"x":76,"y":72},{"p":8,"x":118,"y":72},{"p":8,"x":101,"y":71},{"p":8,"x":64,"y":71},
      {"p":8,"x":71,"y":70},{"p":8,"x":112,"y":70},{"p":8,"x":135,"y":70},{"p":8,"x":158,"y":70},{"p":8,"x":186,"y":70},{"p":8,"x":214,"y":70},{"p":8,"x":121,"y":70},
      {"p":8,"x":87,"y":69},{"p":8,"x":128,"y":69},{"p":8,"x":149,"y":69},{"p":8,"x":176,"y":69},{"p":8,"x":203,"y":69},{"p":8,"x":238,"y":69},{"p":8,"x":95,"y":69},
      {"p":8,"x":66,"y":68},{"p":8,"x":104,"y":68},{"p":8,"x":142,"y":68},{"p":8,"x":167,"y":68},{"p":8,"x":197,"y":68},{"p":8,"x":229,"y":68},{"p":8,"x":259,"y":68},
      {"p":8,"x":79,"y":67},{"p":8,"x":117,"y":67},{"p":8,"x":155,"y":67},{"p":8,"x":183,"y":67},{"p":8,"x":212,"y":67},{"p":8,"x":249,"y":67},
      {"p":8,"x":62,"y":66},{"p":8,"x":98,"y":66},{"p":8,"x":133,"y":66},{"p":8,"x":171,"y":66},{"p":8,"x":206,"y":66},{"p":8,"x":241,"y":66},{"p":8,"x":276,"y":66},
      {"p":8,"x":86,"y":65},{"p":8,"x":124,"y":65},{"p":8,"x":161,"y":65},{"p":8,"x":194,"y":65},{"p":8,"x":227,"y":65},{"p":8,"x":263,"y":65},
      {"p":8,"x":73,"y":64},{"p":8,"x":108,"y":64},{"p":8,"x":146,"y":64},{"p":8,"x":179,"y":64},{"p":8,"x":218,"y":64},{"p":8,"x":254,"y":64},{"p":8,"x":290,"y":64},
      {"p":8,"x":92,"y":63},{"p":8,"x":137,"y":63},{"p":8,"x":165,"y":63},{"p":8,"x":201,"y":63},{"p":8,"x":233,"y":63},{"p":8,"x":268,"y":63},{"p":8,"x":362,"y":63},
      {"p":8,"x":67,"y":62},{"p":8,"x":114,"y":62},{"p":8,"x":152,"y":62},{"p":8,"x":188,"y":62},{"p":8,"x":224,"y":62},{"p":8,"x":258,"y":62},
      {"p":8,"x":81,"y":61},{"p":8,"x":126,"y":61},{"p":8,"x":170,"y":61},{"p":8,"x":209,"y":61},{"p":8,"x":244,"y":61},{"p":8,"x":281,"y":61},
      {"p":8,"x":99,"y":60},{"p":8,"x":139,"y":60},{"p":8,"x":159,"y":60},{"p":8,"x":181,"y":60},{"p":8,"x":198,"y":60},{"p":8,"x":216,"y":60},{"p":8,"x":236,"y":60},{"p":8,"x":266,"y":60},{"p":8,"x":297,"y":60},{"p":8,"x":318,"y":60},
      {"p":8,"x":74,"y":59},{"p":8,"x":119,"y":59},{"p":8,"x":153,"y":59},{"p":8,"x":192,"y":59},{"p":8,"x":228,"y":59},{"p":8,"x":262,"y":59},
      {"p":8,"x":88,"y":58},{"p":8,"x":131,"y":58},{"p":8,"x":174,"y":58},{"p":8,"x":210,"y":58},{"p":8,"x":247,"y":58},{"p":8,"x":305,"y":58},
      {"p":8,"x":106,"y":57},{"p":8,"x":147,"y":57},{"p":8,"x":185,"y":57},{"p":8,"x":221,"y":57},{"p":8,"x":256,"y":57},{"p":8,"x":283,"y":57},
      {"p":8,"x":69,"y":56},{"p":8,"x":123,"y":56},{"p":8,"x":163,"y":56},{"p":8,"x":199,"y":56},{"p":8,"x":240,"y":56},
      {"p":8,"x":94,"y":55},{"p":8,"x":141,"y":55},{"p":8,"x":178,"y":55},{"p":8,"x":215,"y":55},{"p":8,"x":252,"y":55},{"p":8,"x":273,"y":55},
      {"p":8,"x":111,"y":54},{"p":8,"x":156,"y":54},{"p":8,"x":193,"y":54},{"p":8,"x":231,"y":54},{"p":8,"x":380,"y":54},
      {"p":8,"x":134,"y":53},{"p":8,"x":168,"y":53},{"p":8,"x":207,"y":53},{"p":8,"x":245,"y":53},
      {"p":8,"x":116,"y":52},{"p":8,"x":184,"y":52},{"p":8,"x":222,"y":52},{"p":8,"x":261,"y":52},
      {"p":8,"x":129,"y":51.6},{"p":8,"x":368,"y":51.6},{"p":8,"x":146,"y":51},{"p":8,"x":181,"y":51},{"p":8,"x":232,"y":51},{"p":8,"x":270,"y":51},
      {"p":8,"x":191,"y":50},{"p":8,"x":219,"y":50},{"p":8,"x":268,"y":50},{"p":8,"x":207,"y":49},{"p":8,"x":284,"y":49},{"p":8,"x":153,"y":48},{"p":8,"x":172,"y":48},
      {"p":8,"x":201,"y":47},{"p":8,"x":217,"y":46},{"p":8,"x":243,"y":46},{"p":8,"x":149,"y":44},{"p":8,"x":127,"y":42},{"p":8,"x":124,"y":39.1}
    ],
    "fit": [
      {"p":1,"x":1363,"y":13.27},{"p":1,"x":2140,"y":22.7},
      {"p":2,"x":368,"y":12.25},{"p":2,"x":3135,"y":22.37},
      {"p":3,"x":81.6,"y":13.86},{"p":3,"x":98.3,"y":21.29},
      {"p":4,"x":-21,"y":22.0},{"p":4,"x":423,"y":13.68},
      {"p":5,"x":1363,"y":53.8},{"p":5,"x":2140,"y":67.1},
      {"p":6,"x":368,"y":46.8},{"p":6,"x":3135,"y":70.5},
      {"p":7,"x":81.6,"y":55.0},{"p":7,"x":98.3,"y":64.5},
      {"p":8,"x":-21,"y":65.5},{"p":8,"x":423,"y":54.0}
    ],
    "ann": [
      {"p":1,"x":1423,"y":28.27,"r":"r=0.415"},
      {"p":2,"x":609,"y":28.35,"r":"r=0.374"},
      {"p":3,"x":83.42,"y":28.35,"r":"r=0.416"},
      {"p":4,"x":259,"y":28.35,"r":"r=-0.351"},
      {"p":5,"x":1423,"y":84.1,"r":"r=0.268"},
      {"p":6,"x":684,"y":84.1,"r":"r=0.401"},
      {"p":7,"x":83.42,"y":84.1,"r":"r=0.255"},
      {"p":8,"x":259,"y":84.1,"r":"r=-0.222"}
    ]
  },
  "concat": [
    {"width":259.5,"height":202,
     "encoding":{"x":{"field":"x","type":"quantitative","title":"GWI(mmHg%)","scale":{"domain":[1363,2140],"nice":false,"zero":false},"axis":{"values":[1400,1600,1800,2000],"format":"d"}},
                 "y":{"field":"y","type":"quantitative","title":"-GLS(%)","scale":{"domain":[8.93,31.18],"nice":false,"zero":false},"axis":{"values":[10,15,20,25,30],"format":"d"}}},
     "layer":[
      {"data":{"name":"pts"},"transform":[{"filter":"datum.p==1"}],"mark":{"type":"point","shape":"circle","filled":false,"size":20,"stroke":"#3a3a3a","strokeWidth":0.8,"opacity":1,"clip":true}},
      {"data":{"name":"fit"},"transform":[{"filter":"datum.p==1"}],"mark":{"type":"line","color":"#4a4a4a","strokeWidth":1,"clip":true},"encoding":{}},
      {"data":{"name":"ann"},"transform":[{"filter":"datum.p==1"}],"mark":{"type":"text","align":"left","baseline":"alphabetic","font":"Liberation Serif","fontSize":18,"color":"#111"},"encoding":{"text":{"field":"r"}}},
      {"data":{"name":"ann"},"transform":[{"filter":"datum.p==1"}],"mark":{"type":"text","align":"left","baseline":"alphabetic","font":"Liberation Serif","fontSize":18,"fontStyle":"italic","color":"#111","dx":1,"dy":20},"encoding":{"text":{"value":"p"}}},
      {"data":{"name":"ann"},"transform":[{"filter":"datum.p==1"}],"mark":{"type":"text","align":"left","baseline":"alphabetic","font":"Liberation Serif","fontSize":18,"color":"#111","dx":10,"dy":20},"encoding":{"text":{"value":"<0.05"}}}
     ]},
    {"width":259.5,"height":202,
     "encoding":{"x":{"field":"x","type":"quantitative","title":"GCW(mmHg%)","scale":{"domain":[368,3135],"nice":false,"zero":false},"axis":{"values":[500,1000,1500,2000,2500,3000],"format":"d"}},
                 "y":{"field":"y","type":"quantitative","title":"-GLS(%)","scale":{"domain":[8.93,31.18],"nice":false,"zero":false},"axis":{"values":[10,15,20,25,30],"format":"d"}}},
     "layer":[
      {"data":{"name":"pts"},"transform":[{"filter":"datum.p==2"}],"mark":{"type":"point","shape":"circle","filled":false,"size":20,"stroke":"#3a3a3a","strokeWidth":0.8,"opacity":1,"clip":true}},
      {"data":{"name":"fit"},"transform":[{"filter":"datum.p==2"}],"mark":{"type":"line","color":"#4a4a4a","strokeWidth":1,"clip":true},"encoding":{}},
      {"data":{"name":"ann"},"transform":[{"filter":"datum.p==2"}],"mark":{"type":"text","align":"left","baseline":"alphabetic","font":"Liberation Serif","fontSize":18,"color":"#111"},"encoding":{"text":{"field":"r"}}},
      {"data":{"name":"ann"},"transform":[{"filter":"datum.p==2"}],"mark":{"type":"text","align":"left","baseline":"alphabetic","font":"Liberation Serif","fontSize":18,"fontStyle":"italic","color":"#111","dx":1,"dy":20},"encoding":{"text":{"value":"p"}}},
      {"data":{"name":"ann"},"transform":[{"filter":"datum.p==2"}],"mark":{"type":"text","align":"left","baseline":"alphabetic","font":"Liberation Serif","fontSize":18,"color":"#111","dx":10,"dy":20},"encoding":{"text":{"value":"<0.05"}}}
     ]},
    {"width":259.5,"height":202,
     "encoding":{"x":{"field":"x","type":"quantitative","title":"GWE(mmHg%)","scale":{"domain":[81.6,98.3],"nice":false,"zero":false},"axis":{"values":[84,87,90,93,96],"format":"d"}},
                 "y":{"field":"y","type":"quantitative","title":"-GLS(%)","scale":{"domain":[8.93,31.18],"nice":false,"zero":false},"axis":{"values":[10,15,20,25,30],"format":"d"}}},
     "layer":[
      {"data":{"name":"pts"},"transform":[{"filter":"datum.p==3"}],"mark":{"type":"point","shape":"circle","filled":false,"size":20,"stroke":"#3a3a3a","strokeWidth":0.8,"opacity":1,"clip":true}},
      {"data":{"name":"fit"},"transform":[{"filter":"datum.p==3"}],"mark":{"type":"line","color":"#4a4a4a","strokeWidth":1,"clip":true},"encoding":{}},
      {"data":{"name":"ann"},"transform":[{"filter":"datum.p==3"}],"mark":{"type":"text","align":"left","baseline":"alphabetic","font":"Liberation Serif","fontSize":18,"color":"#111"},"encoding":{"text":{"field":"r"}}},
      {"data":{"name":"ann"},"transform":[{"filter":"datum.p==3"}],"mark":{"type":"text","align":"left","baseline":"alphabetic","font":"Liberation Serif","fontSize":18,"fontStyle":"italic","color":"#111","dx":1,"dy":20},"encoding":{"text":{"value":"p"}}},
      {"data":{"name":"ann"},"transform":[{"filter":"datum.p==3"}],"mark":{"type":"text","align":"left","baseline":"alphabetic","font":"Liberation Serif","fontSize":18,"color":"#111","dx":10,"dy":20},"encoding":{"text":{"value":"<0.05"}}}
     ]},
    {"width":259.5,"height":202,
     "encoding":{"x":{"field":"x","type":"quantitative","title":"GWW(mmHg%)","scale":{"domain":[-21,423],"nice":false,"zero":false},"axis":{"values":[0,100,200,300,400],"format":"d"}},
                 "y":{"field":"y","type":"quantitative","title":"-GLS(%)","scale":{"domain":[8.93,31.18],"nice":false,"zero":false},"axis":{"values":[10,15,20,25,30],"format":"d"}}},
     "layer":[
      {"data":{"name":"pts"},"transform":[{"filter":"datum.p==4"}],"mark":{"type":"point","shape":"circle","filled":false,"size":20,"stroke":"#3a3a3a","strokeWidth":0.8,"opacity":1,"clip":true}},
      {"data":{"name":"fit"},"transform":[{"filter":"datum.p==4"}],"mark":{"type":"line","color":"#4a4a4a","strokeWidth":1,"clip":true},"encoding":{}},
      {"data":{"name":"ann"},"transform":[{"filter":"datum.p==4"}],"mark":{"type":"text","align":"left","baseline":"alphabetic","font":"Liberation Serif","fontSize":18,"color":"#111"},"encoding":{"text":{"field":"r"}}},
      {"data":{"name":"ann"},"transform":[{"filter":"datum.p==4"}],"mark":{"type":"text","align":"left","baseline":"alphabetic","font":"Liberation Serif","fontSize":18,"fontStyle":"italic","color":"#111","dx":-1,"dy":20},"encoding":{"text":{"value":"p"}}},
      {"data":{"name":"ann"},"transform":[{"filter":"datum.p==4"}],"mark":{"type":"text","align":"left","baseline":"alphabetic","font":"Liberation Serif","fontSize":18,"color":"#111","dx":8,"dy":20},"encoding":{"text":{"value":"<0.05"}}}
     ]},
    {"width":259.5,"height":202,
     "encoding":{"x":{"field":"x","type":"quantitative","title":"GWI(mmHg%)","scale":{"domain":[1363,2140],"nice":false,"zero":false},"axis":{"values":[1400,1600,1800,2000],"format":"d"}},
                 "y":{"field":"y","type":"quantitative","title":"LVEF(%)","scale":{"domain":[26.7,93.5],"nice":false,"zero":false},"axis":{"values":[30,40,50,60,70,80,90],"format":"d"}}},
     "layer":[
      {"data":{"name":"pts"},"transform":[{"filter":"datum.p==5"}],"mark":{"type":"point","shape":"circle","filled":false,"size":20,"stroke":"#3a3a3a","strokeWidth":0.8,"opacity":1,"clip":true}},
      {"data":{"name":"fit"},"transform":[{"filter":"datum.p==5"}],"mark":{"type":"line","color":"#4a4a4a","strokeWidth":1,"clip":true},"encoding":{}},
      {"data":{"name":"ann"},"transform":[{"filter":"datum.p==5"}],"mark":{"type":"text","align":"left","baseline":"alphabetic","font":"Liberation Serif","fontSize":18,"color":"#111"},"encoding":{"text":{"field":"r"}}},
      {"data":{"name":"ann"},"transform":[{"filter":"datum.p==5"}],"mark":{"type":"text","align":"left","baseline":"alphabetic","font":"Liberation Serif","fontSize":18,"fontStyle":"italic","color":"#111","dx":1,"dy":20},"encoding":{"text":{"value":"p"}}},
      {"data":{"name":"ann"},"transform":[{"filter":"datum.p==5"}],"mark":{"type":"text","align":"left","baseline":"alphabetic","font":"Liberation Serif","fontSize":18,"color":"#111","dx":10,"dy":20},"encoding":{"text":{"value":"<0.05"}}}
     ]},
    {"width":259.5,"height":202,
     "encoding":{"x":{"field":"x","type":"quantitative","title":"GCW(mmHg%)","scale":{"domain":[368,3135],"nice":false,"zero":false},"axis":{"values":[500,1000,1500,2000,2500,3000],"format":"d"}},
                 "y":{"field":"y","type":"quantitative","title":"LVEF(%)","scale":{"domain":[26.7,93.5],"nice":false,"zero":false},"axis":{"values":[30,40,50,60,70,80,90],"format":"d"}}},
     "layer":[
      {"data":{"name":"pts"},"transform":[{"filter":"datum.p==6"}],"mark":{"type":"point","shape":"circle","filled":false,"size":20,"stroke":"#3a3a3a","strokeWidth":0.8,"opacity":1,"clip":true}},
      {"data":{"name":"fit"},"transform":[{"filter":"datum.p==6"}],"mark":{"type":"line","color":"#4a4a4a","strokeWidth":1,"clip":true},"encoding":{}},
      {"data":{"name":"ann"},"transform":[{"filter":"datum.p==6"}],"mark":{"type":"text","align":"left","baseline":"alphabetic","font":"Liberation Serif","fontSize":18,"color":"#111"},"encoding":{"text":{"field":"r"}}},
      {"data":{"name":"ann"},"transform":[{"filter":"datum.p==6"}],"mark":{"type":"text","align":"left","baseline":"alphabetic","font":"Liberation Serif","fontSize":18,"fontStyle":"italic","color":"#111","dx":1,"dy":20},"encoding":{"text":{"value":"p"}}},
      {"data":{"name":"ann"},"transform":[{"filter":"datum.p==6"}],"mark":{"type":"text","align":"left","baseline":"alphabetic","font":"Liberation Serif","fontSize":18,"color":"#111","dx":10,"dy":20},"encoding":{"text":{"value":"<0.05"}}}
     ]},
    {"width":259.5,"height":202,
     "encoding":{"x":{"field":"x","type":"quantitative","title":"GWE(mmHg%)","scale":{"domain":[81.6,98.3],"nice":false,"zero":false},"axis":{"values":[84,87,90,93,96],"format":"d"}},
                 "y":{"field":"y","type":"quantitative","title":"LVEF(%)","scale":{"domain":[26.7,93.5],"nice":false,"zero":false},"axis":{"values":[30,40,50,60,70,80,90],"format":"d"}}},
     "layer":[
      {"data":{"name":"pts"},"transform":[{"filter":"datum.p==7"}],"mark":{"type":"point","shape":"circle","filled":false,"size":20,"stroke":"#3a3a3a","strokeWidth":0.8,"opacity":1,"clip":true}},
      {"data":{"name":"fit"},"transform":[{"filter":"datum.p==7"}],"mark":{"type":"line","color":"#4a4a4a","strokeWidth":1,"clip":true},"encoding":{}},
      {"data":{"name":"ann"},"transform":[{"filter":"datum.p==7"}],"mark":{"type":"text","align":"left","baseline":"alphabetic","font":"Liberation Serif","fontSize":18,"color":"#111"},"encoding":{"text":{"field":"r"}}},
      {"data":{"name":"ann"},"transform":[{"filter":"datum.p==7"}],"mark":{"type":"text","align":"left","baseline":"alphabetic","font":"Liberation Serif","fontSize":18,"fontStyle":"italic","color":"#111","dx":1,"dy":20},"encoding":{"text":{"value":"p"}}},
      {"data":{"name":"ann"},"transform":[{"filter":"datum.p==7"}],"mark":{"type":"text","align":"left","baseline":"alphabetic","font":"Liberation Serif","fontSize":18,"color":"#111","dx":10,"dy":20},"encoding":{"text":{"value":"<0.05"}}}
     ]},
    {"width":259.5,"height":202,
     "encoding":{"x":{"field":"x","type":"quantitative","title":"GWW(mmHg%)","scale":{"domain":[-21,423],"nice":false,"zero":false},"axis":{"values":[0,100,200,300,400],"format":"d"}},
                 "y":{"field":"y","type":"quantitative","title":"LVEF(%)","scale":{"domain":[26.7,93.5],"nice":false,"zero":false},"axis":{"values":[30,40,50,60,70,80,90],"format":"d"}}},
     "layer":[
      {"data":{"name":"pts"},"transform":[{"filter":"datum.p==8"}],"mark":{"type":"point","shape":"circle","filled":false,"size":20,"stroke":"#3a3a3a","strokeWidth":0.8,"opacity":1,"clip":true}},
      {"data":{"name":"fit"},"transform":[{"filter":"datum.p==8"}],"mark":{"type":"line","color":"#4a4a4a","strokeWidth":1,"clip":true},"encoding":{}},
      {"data":{"name":"ann"},"transform":[{"filter":"datum.p==8"}],"mark":{"type":"text","align":"left","baseline":"alphabetic","font":"Liberation Serif","fontSize":18,"color":"#111"},"encoding":{"text":{"field":"r"}}},
      {"data":{"name":"ann"},"transform":[{"filter":"datum.p==8"}],"mark":{"type":"text","align":"left","baseline":"alphabetic","font":"Liberation Serif","fontSize":18,"fontStyle":"italic","color":"#111","dx":-1,"dy":20},"encoding":{"text":{"value":"p"}}},
      {"data":{"name":"ann"},"transform":[{"filter":"datum.p==8"}],"mark":{"type":"text","align":"left","baseline":"alphabetic","font":"Liberation Serif","fontSize":18,"color":"#111","dx":8,"dy":20},"encoding":{"text":{"value":"<0.05"}}}
     ]}
  ],
  "config": {
    "view": {"fill": "#ebebeb", "stroke": "#8c8c8c", "strokeWidth": 1},
    "axis": {
      "grid": false, "domain": false,
      "labelFont": "Liberation Serif", "labelFontWeight": "bold", "labelFontSize": 10.5, "labelColor": "#000",
      "tickColor": "#333", "tickSize": 5,
      "titleFont": "Liberation Serif", "titleFontWeight": "bold", "titleColor": "#000"
    },
    "axisX": {"labelBaseline": "alphabetic", "labelPadding": 14, "titleFontSize": 17.5, "titleX": 115.5, "titleY": 45.5, "titleBaseline": "alphabetic", "titleAlign": "center"},
    "axisY": {"labelPadding": 5, "titleFontSize": 22, "titleX": -23, "titleY": 97.5, "titleAngle": 270, "titleBaseline": "bottom", "titleAlign": "center"}
  }
}
